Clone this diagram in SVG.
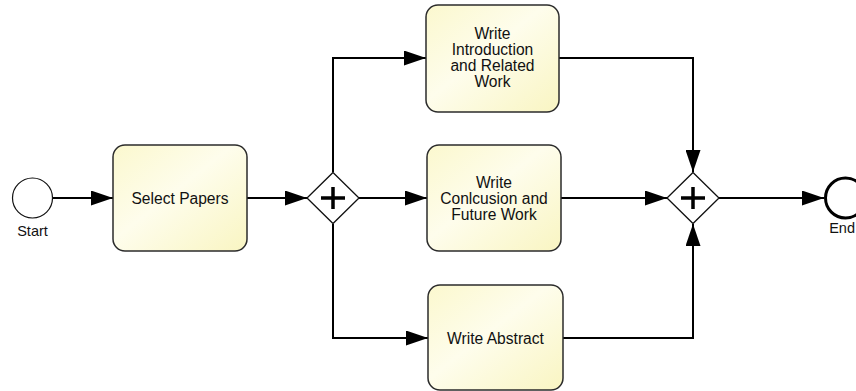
<svg xmlns="http://www.w3.org/2000/svg" width="856" height="391" viewBox="0 0 856 391">
  <defs>
    <linearGradient id="taskFill" x1="0" y1="0" x2="1" y2="1">
      <stop offset="0" stop-color="#fbf8ce"/>
      <stop offset="0.45" stop-color="#fefdec"/>
      <stop offset="1" stop-color="#f9f5c2"/>
    </linearGradient>
    <marker id="arrow" viewBox="0 0 22 15" refX="22" refY="7.5" markerWidth="22" markerHeight="15" markerUnits="userSpaceOnUse" orient="auto">
      <path d="M0,0 L22,7.5 L0,15 Z" fill="#000"/>
    </marker>
  </defs>
  <style>
    .task { fill: url(#taskFill); stroke: #2b2b2b; stroke-width: 1.5; }
    .label { font-family: "Liberation Sans", Arial, sans-serif; font-size: 15.6px; fill: #111; text-anchor: middle; }
    .small { font-family: "Liberation Sans", Arial, sans-serif; font-size: 14.5px; fill: #111; text-anchor: middle; }
    .gw { fill: #fff; stroke: #111; stroke-width: 1.3; }
    .plus { stroke: #000; stroke-width: 3.5; fill: none; }
    .flow { fill: none; stroke: #000; stroke-width: 2; marker-end: url(#arrow); }
  </style>

  <g id="connectors">
    <path class="flow" d="M53,198 L113,198"/>
    <path class="flow" d="M247,198 L307,198"/>
    <path class="flow" d="M333,172 L333,58 L426,58"/>
    <path class="flow" d="M359,198 L427,198"/>
    <path class="flow" d="M333,224 L333,338 L428,338"/>
    <path class="flow" d="M559,58 L693,58 L693,172"/>
    <path class="flow" d="M561,198 L667,198"/>
    <path class="flow" d="M563,338 L693,338 L693,224"/>
    <path class="flow" d="M719,198 L824,198"/>
  </g>

  <g id="start">
    <circle cx="32.5" cy="198" r="20" fill="#fff" stroke="#111" stroke-width="1.2"/>
    <text class="small" x="32.5" y="236">Start</text>
  </g>

  <g id="select-papers">
    <rect class="task" x="113" y="145" width="134" height="106" rx="12"/>
    <text class="label" x="180" y="203.5">Select Papers</text>
  </g>

  <g id="split">
    <path class="gw" d="M333,172.5 L359,198 L333,223.5 L307,198 Z"/>
    <path class="plus" d="M321,198 H345 M333,187 V209"/>
  </g>

  <g id="write-intro">
    <rect class="task" x="426" y="5" width="133" height="107" rx="12"/>
    <text class="label" x="492.5" y="39">Write</text>
    <text class="label" x="492.5" y="55">Introduction</text>
    <text class="label" x="492.5" y="71">and Related</text>
    <text class="label" x="492.5" y="87">Work</text>
  </g>

  <g id="write-conclusion">
    <rect class="task" x="427" y="145" width="134" height="106" rx="12"/>
    <text class="label" x="494" y="187.5">Write</text>
    <text class="label" x="494" y="203.5">Conlcusion and</text>
    <text class="label" x="494" y="219.5">Future Work</text>
  </g>

  <g id="write-abstract">
    <rect class="task" x="428" y="285" width="135" height="105" rx="12"/>
    <text class="label" x="495.5" y="343.5">Write Abstract</text>
  </g>

  <g id="join">
    <path class="gw" d="M693,172.5 L719,198 L693,223.5 L667,198 Z"/>
    <path class="plus" d="M681,198 H705 M693,187 V209"/>
  </g>

  <g id="end">
    <circle cx="845.5" cy="198" r="20" fill="#fff" stroke="#000" stroke-width="3"/>
    <text class="small" x="855" y="233" text-anchor="end" style="text-anchor:end">End</text>
  </g>
</svg>
